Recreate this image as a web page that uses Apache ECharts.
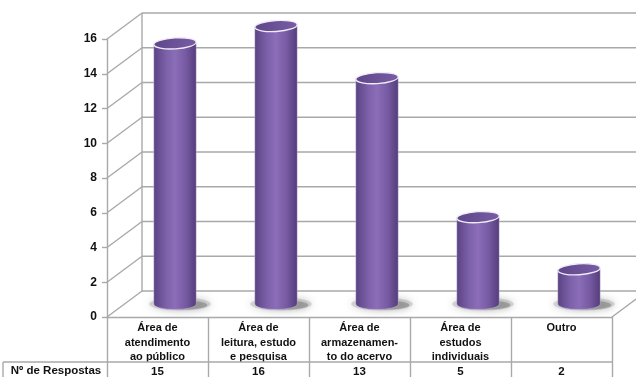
<!DOCTYPE html>
<html>
<head>
<meta charset="utf-8">
<script src="https://cdn.jsdelivr.net/npm/echarts@6/dist/echarts.min.js"></script>
<style>
  html, body { margin: 0; padding: 0; background: #ffffff; }
  #chart { width: 636px; height: 377px; }
</style>
</head>
<body>
<div id="chart"></div>
<script>
// Categories, answer counts and axis ticks
const categories = [
  'Área de\natendimento\nao público',
  'Área de\nleitura, estudo\ne pesquisa',
  'Área de\narmazenamen-\nto do acervo',
  'Área de\nestudos\nindividuais',
  'Outro'
];
const respostas = [15, 16, 13, 5, 2];
const yTicks = [0, 2, 4, 6, 8, 10, 12, 14, 16];
const rowTitle = 'Nº de Respostas';

// Pseudo-3D depth of the plot box (back wall offset from the front plane)
const DEPTH_X = 35;
const DEPTH_Y = -26;
const LINE_COLOR = '#a9a9a9';
const FONT = '"Liberation Sans", Arial, sans-serif';

const chart = echarts.init(document.getElementById('chart'), null, { renderer: 'canvas' });

// Side wall diagonals, back wall gridlines and floor edge
function renderFrame(params, api) {
  const v = api.value(1);
  const p = api.coord([0, v]);
  const band = api.size([1, 0])[0];
  const x0 = p[0] - band / 2;
  const y = p[1];
  const xEnd = x0 + band * categories.length;
  const style = { stroke: LINE_COLOR, lineWidth: 1.4 };
  const children = [
    { type: 'line', shape: { x1: x0, y1: y, x2: x0 + DEPTH_X, y2: y + DEPTH_Y }, style },
    { type: 'line', shape: { x1: x0 + DEPTH_X, y1: y + DEPTH_Y, x2: xEnd + DEPTH_X, y2: y + DEPTH_Y }, style }
  ];
  if (v === yTicks[0]) {
    children.push({ type: 'line', shape: { x1: xEnd, y1: y, x2: xEnd + DEPTH_X, y2: y + DEPTH_Y }, style });
  }
  if (v === yTicks[yTicks.length - 1]) {
    const yZero = api.coord([0, 0])[1];
    children.push({ type: 'line', shape: { x1: x0 + DEPTH_X, y1: y + DEPTH_Y, x2: x0 + DEPTH_X, y2: yZero + DEPTH_Y }, style });
  }
  return { type: 'group', children };
}

// Cylinder standing in the middle of the depth
function renderCylinder(params, api) {
  const i = api.value(0);
  const v = api.value(1);
  const base = api.coord([i, 0]);
  const top = api.coord([i, v]);
  const band = api.size([1, 0])[0];
  const cx = base[0] + DEPTH_X / 2;
  const yb = base[1] + DEPTH_Y / 2;
  const yt = top[1] + DEPTH_Y / 2;
  const rx = band * 0.21;
  const ry = 5.5;

  // soft floor shadow around the base
  const shadowOuter = {
    type: 'ellipse',
    shape: { cx: cx + 5, cy: yb, rx: rx * 1.45, ry: 6.5 },
    style: {
      fill: 'rgba(170,170,170,0.45)',
      shadowBlur: 9,
      shadowColor: 'rgba(140,140,140,0.8)'
    }
  };
  const shadowInner = {
    type: 'ellipse',
    shape: { cx: cx + 8, cy: yb + 1, rx: rx * 1.15, ry: 4.5 },
    style: {
      fill: 'rgba(110,110,110,0.45)',
      shadowBlur: 6,
      shadowColor: 'rgba(110,110,110,0.6)'
    }
  };
  const bodyPath =
    'M ' + (cx - rx) + ' ' + yt +
    ' L ' + (cx - rx) + ' ' + yb +
    ' A ' + rx + ' ' + ry + ' 0 0 0 ' + (cx + rx) + ' ' + yb +
    ' L ' + (cx + rx) + ' ' + yt + ' Z';
  const body = {
    type: 'path',
    shape: { pathData: bodyPath },
    style: {
      fill: new echarts.graphic.LinearGradient(0, 0, 1, 0, [
        { offset: 0, color: '#5a4282' },
        { offset: 0.3, color: '#7d61aa' },
        { offset: 0.5, color: '#8b6db8' },
        { offset: 0.75, color: '#765aa2' },
        { offset: 1, color: '#543c7a' }
      ]),
      stroke: 'rgba(225,215,240,0.6)',
      lineWidth: 0.6
    }
  };
  const cap = {
    type: 'ellipse',
    shape: { cx: cx, cy: yt, rx: rx, ry: ry },
    originX: cx, originY: yt,
    rotation: 0.06,
    style: {
      fill: new echarts.graphic.LinearGradient(0, 0, 1, 1, [
        { offset: 0, color: '#5e4588' },
        { offset: 1, color: '#795ea5' }
      ]),
      stroke: '#f1eaf8',
      lineWidth: 1.3
    }
  };
  return { type: 'group', children: [shadowOuter, shadowInner, body, cap] };
}

// Value row of the data table under the axis
function renderValueCell(params, api) {
  const i = api.value(0);
  const p = api.coord([i, 0]);
  return {
    type: 'text',
    style: {
      x: p[0], y: p[1] + 55,
      text: String(api.value(1)),
      fill: '#111',
      font: 'bold 11.5px ' + FONT,
      align: 'center', verticalAlign: 'middle'
    }
  };
}

const option = {
  animation: false,
  backgroundColor: '#ffffff',
  grid: { left: 107, right: 24, top: 39, bottom: 60 },
  xAxis: {
    type: 'category',
    data: categories,
    boundaryGap: true,
    axisLine: { show: true, lineStyle: { color: LINE_COLOR, width: 1.4 } },
    axisTick: { show: true, length: 62, lineStyle: { color: LINE_COLOR, width: 1.4 } },
    axisLabel: {
      interval: 0, margin: 4,
      color: '#111', fontFamily: FONT, fontWeight: 'bold', fontSize: 11, lineHeight: 14.5
    },
    splitLine: { show: false }
  },
  yAxis: {
    type: 'value',
    min: 0, max: 16, interval: 2,
    axisLine: { show: true, lineStyle: { color: LINE_COLOR, width: 1.4 } },
    axisTick: { show: true, length: 5, lineStyle: { color: LINE_COLOR, width: 1.4 } },
    axisLabel: { margin: 10, color: '#111', fontFamily: FONT, fontWeight: 'bold', fontSize: 12 },
    splitLine: { show: false }
  },
  graphic: [
    { type: 'line', shape: { x1: 3, y1: 362, x2: 612, y2: 362 }, style: { stroke: LINE_COLOR, lineWidth: 1.4 }, z: 10 },
    { type: 'line', shape: { x1: 3, y1: 362, x2: 3, y2: 380 }, style: { stroke: LINE_COLOR, lineWidth: 1.4 }, z: 10 },
    { type: 'text', x: 56, y: 371, style: { text: rowTitle, fill: '#111', font: 'bold 11.5px ' + FONT, align: 'center', verticalAlign: 'middle' }, z: 10 }
  ],
  series: [
    {
      type: 'custom', name: 'frame', clip: false, z: 1,
      renderItem: renderFrame,
      data: yTicks.map(v => [0, v]),
      silent: true
    },
    {
      type: 'custom', name: rowTitle, clip: false, z: 3,
      renderItem: renderCylinder,
      data: respostas.map((v, i) => [i, v])
    },
    {
      type: 'custom', name: 'tabela', clip: false, z: 4,
      renderItem: renderValueCell,
      data: respostas.map((v, i) => [i, v]),
      silent: true
    }
  ]
};

chart.setOption(option);
</script>
</body>
</html>
